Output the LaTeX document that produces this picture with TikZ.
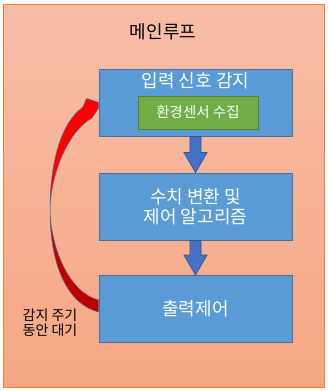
\documentclass[tikz,border=0pt]{standalone}
\usepackage{fontspec}
\setmainfont{Noto Sans CJK KR}
\usetikzlibrary{calc}

\definecolor{frameorange}{HTML}{ED7D31}
\definecolor{bgtop}{HTML}{F8BDA7}
\definecolor{bgbottom}{HTML}{F5A783}
\definecolor{boxblue}{HTML}{5B9BD5}
\definecolor{boxline}{HTML}{41719C}
\definecolor{sensorgreen}{HTML}{70AD47}
\definecolor{sensorline}{HTML}{507E32}
\definecolor{flowblue}{HTML}{4472C4}
\definecolor{flowline}{HTML}{2F5597}
\definecolor{loopred}{HTML}{FF0000}
\definecolor{loopdark}{HTML}{C00000}

\begin{document}
\begin{tikzpicture}[x=1pt, y=-1pt,
    framebox/.style={draw=frameorange, line width=1pt, top color=bgtop, bottom color=bgbottom,
                     minimum width=321pt, minimum height=383pt, inner sep=0pt},
    stagebox/.style={draw=boxline, fill=boxblue, line width=0.9pt,
                     minimum width=193pt, minimum height=67pt, inner sep=0pt},
    stagetext/.style={text=white, inner sep=0pt, align=center, font=\fontsize{18}{20}\selectfont},
    sensorbox/.style={draw=sensorline, fill=sensorgreen, line width=0.9pt, text=white,
                      minimum width=120pt, minimum height=33pt, inner sep=0pt,
                      font=\fontsize{14.5}{16}\selectfont},
    flowarrow/.style={draw=flowline, fill=flowblue, line width=0.7pt, line join=miter},
    looppart/.style={draw=boxline, line width=0.5pt, line join=miter}]

    % ---------------------------------------------------------------
    % 1. Bounding box and background frame
    % ---------------------------------------------------------------
    \useasboundingbox (0,0) rectangle (328,391);
    \node[framebox] (frame) at (163.5,195.5) {};
    \node[font=\fontsize{18}{20}\selectfont, inner sep=0pt] (title) at (163,32) {메인루프};

    % ---------------------------------------------------------------
    % 2. Stage boxes
    % ---------------------------------------------------------------
    \node[stagebox] (inbox) at (195.5,102.5) {};
    \node[stagetext] (intext) at (195.5,80.5) {입력 신호 감지};
    \node[sensorbox] (sensor) at (198,112.5) {환경센서 수집};

    \node[stagebox] (calcbox) at (195.5,206.5) {};
    \node[stagetext] (calctext) at (calcbox) {수치 변환 및\\제어 알고리즘};

    \node[stagebox] (outbox) at (195.5,309) {};
    \node[stagetext] (outtext) at (outbox) {출력제어};

    % ---------------------------------------------------------------
    % 3. Block arrows between the stages
    % ---------------------------------------------------------------
    \draw[flowarrow] ($(inbox.south)+(-5.5,0)$) -- ($(calcbox.north)+(-5.5,-20)$) -- ++(-6,0)
        -- (calcbox.north) -- ++(11.5,-20) -- ++(-6,0) -- ($(inbox.south)+(5.5,0)$) -- cycle;
    \draw[flowarrow] ($(calcbox.south)+(-5.5,0)$) -- ($(outbox.north)+(-5.5,-20)$) -- ++(-6,0)
        -- (outbox.north) -- ++(11.5,-20) -- ++(-6,0) -- ($(calcbox.south)+(5.5,0)$) -- cycle;

    % ---------------------------------------------------------------
    % 4. Curved loop arrow back to the input stage
    % ---------------------------------------------------------------
    \coordinate (tiptop) at ($(inbox.west)+(0,0)$);
    \coordinate (tipbot) at ($(inbox.west)+(0,5.5)$);
    \coordinate (tailtop) at ($(outbox.west)+(0,-9)$);
    \coordinate (tailbot) at ($(outbox.west)+(0,3)$);
    \coordinate (loopmid) at (50,210);

    \filldraw[looppart, fill=loopdark] (loopmid) .. controls (50,270) and (70,305) .. (tailbot)
        -- (tailtop) .. controls (70,293) and (51,250) .. (loopmid) -- cycle;
    \filldraw[looppart, fill=loopred] (tipbot) -- (tiptop) -- (86.5,98.5) -- (82.5,107.5)
        .. controls (62,122) and (50,160) .. (loopmid)
        .. controls (51,170) and (70,130) .. (92,118) -- cycle;

    \node[align=left, inner sep=0pt, font=\fontsize{14}{15}\selectfont] (wait) at (50,323)
        {감지 주기\\동안 대기};

\end{tikzpicture}
\end{document}
